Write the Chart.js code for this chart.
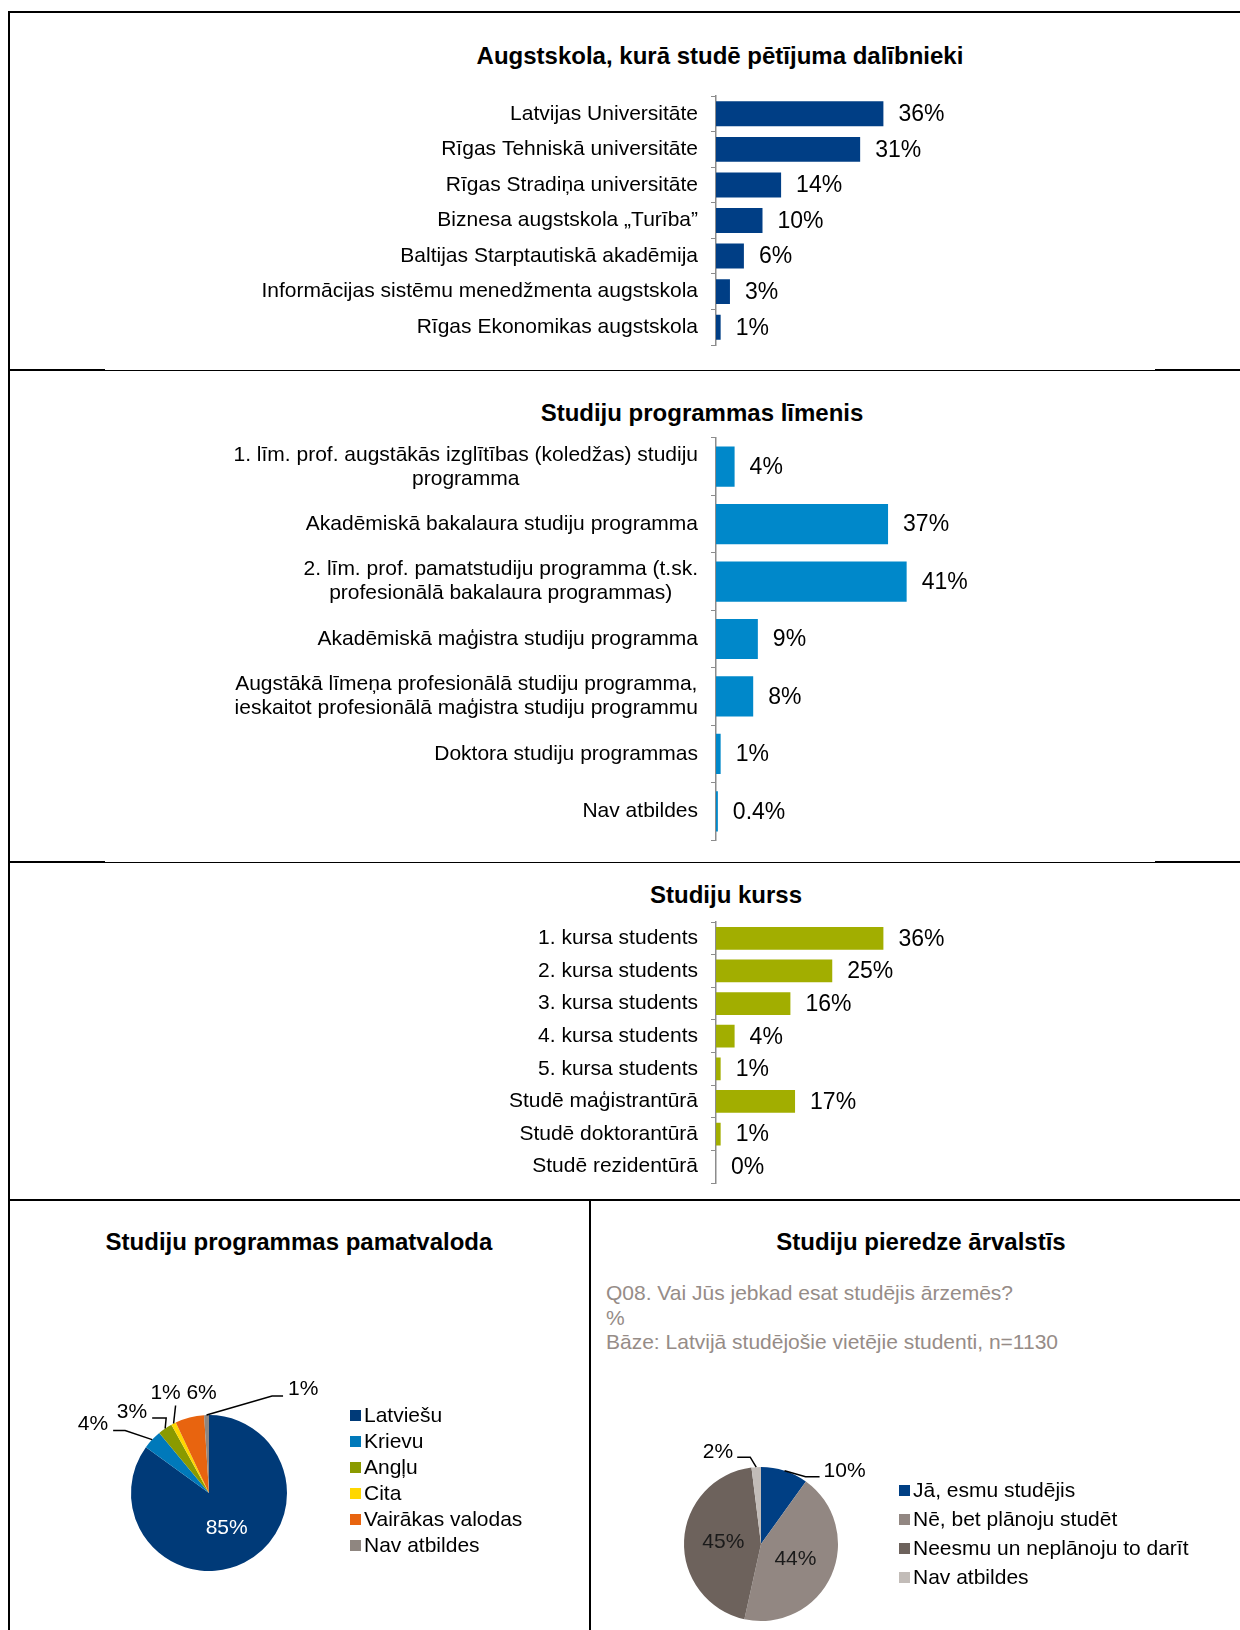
<!DOCTYPE html>
<html lang="lv">
<head>
<meta charset="utf-8">
<title>Pētījuma dalībnieki</title>
<script src="https://cdn.jsdelivr.net/npm/chart.js@4.4.1/dist/chart.umd.min.js"></script>
<style>
  body { margin: 0; background: #fff; width: 1240px; height: 1630px; position: relative; overflow: hidden;
         font-family: "Liberation Sans", Arial, sans-serif; }
  .ln { position: absolute; background: #000; }
  .ttl { position: absolute; width: 800px; text-align: center; font-weight: bold; font-size: 24px;
         line-height: 28px; color: #000; white-space: nowrap; }
  .sub { position: absolute; left: 606px; font-size: 21px; line-height: 24.5px; color: #968c87; white-space: nowrap; }
  canvas { position: absolute; }
</style>
</head>
<body>

<!-- frame -->
<div class="ln" style="left:8px;top:11px;width:1232px;height:2px"></div>
<div class="ln" style="left:8px;top:11px;width:2px;height:1619px"></div>
<div class="ln" style="left:8px;top:370px;width:1232px;height:1px"></div>
<div class="ln" style="left:8px;top:369px;width:97px;height:2px"></div>
<div class="ln" style="left:1155px;top:369px;width:85px;height:2px"></div>
<div class="ln" style="left:8px;top:862px;width:1232px;height:1px"></div>
<div class="ln" style="left:8px;top:861px;width:97px;height:2px"></div>
<div class="ln" style="left:1155px;top:861px;width:85px;height:2px"></div>
<div class="ln" style="left:8px;top:1199px;width:1232px;height:2px"></div>
<div class="ln" style="left:589px;top:1199px;width:2px;height:431px"></div>

<!-- titles -->
<div class="ttl" style="left:320px;top:42px">Augstskola, kurā studē pētījuma dalībnieki</div>
<div class="ttl" style="left:302px;top:399px">Studiju programmas līmenis</div>
<div class="ttl" style="left:326px;top:881px">Studiju kurss</div>
<div class="ttl" style="left:-101px;top:1228px">Studiju programmas pamatvaloda</div>
<div class="ttl" style="left:521px;top:1228px">Studiju pieredze ārvalstīs</div>
<div class="sub" style="top:1281px">Q08. Vai Jūs jebkad esat studējis ārzemēs?<br>%<br>Bāze: Latvijā studējošie vietējie studenti, n=1130</div>

<canvas id="schools" width="1240" height="259" style="left:0;top:91px"></canvas>
<canvas id="levels" width="1240" height="412" style="left:0;top:433px"></canvas>
<canvas id="courses" width="1240" height="271" style="left:0;top:917px"></canvas>
<canvas id="languages" width="579" height="428" style="left:10px;top:1202px"></canvas>
<canvas id="abroad" width="649" height="428" style="left:591px;top:1202px"></canvas>

<script>
// data
var schoolLabels = ['Latvijas Universitāte', 'Rīgas Tehniskā universitāte', 'Rīgas Stradiņa universitāte',
    'Biznesa augstskola „Turība”', 'Baltijas Starptautiskā akadēmija',
    'Informācijas sistēmu menedžmenta augstskola', 'Rīgas Ekonomikas augstskola'];
var schoolValues = [36, 31, 14, 10, 6, 3, 1];

var levelLabels = [
    ['1. līm. prof. augstākās izglītības (koledžas) studiju', 'programma'],
    'Akadēmiskā bakalaura studiju programma',
    ['2. līm. prof. pamatstudiju programma (t.sk.', 'profesionālā bakalaura programmas)'],
    'Akadēmiskā maģistra studiju programma',
    ['Augstākā līmeņa profesionālā studiju programma,', 'ieskaitot profesionālā maģistra studiju programmu'],
    'Doktora studiju programmas',
    'Nav atbildes'];
var levelValues = [4, 37, 41, 9, 8, 1, 0.4];

var courseLabels = ['1. kursa students', '2. kursa students', '3. kursa students', '4. kursa students',
    '5. kursa students', 'Studē maģistrantūrā', 'Studē doktorantūrā', 'Studē rezidentūrā'];
var courseValues = [36, 25, 16, 4, 1, 17, 1, 0];

var languageLabels = ['Latviešu', 'Krievu', 'Angļu', 'Cita', 'Vairākas valodas', 'Nav atbildes'];
var languageValues = [85, 4, 3, 1, 6, 1];

var abroadLabels = ['Jā, esmu studējis', 'Nē, bet plānoju studēt', 'Neesmu un neplānoju to darīt', 'Nav atbildes'];
var abroadValues = [10, 44, 45, 2];

var FONT = '"Liberation Sans", Arial, sans-serif';
var AXIS_X = 716;      // where the category axis sits
var PX_PER_PCT = 4.65;
var X_MAX = 50;

// category labels, each line centred inside its own block, block right aligned
function tickLabels(right) {
    return {
        id: 'tickLabels',
        afterDraw: function (chart) {
            var ctx = chart.ctx, scale = chart.scales.y;
            ctx.save();
            ctx.font = '21px ' + FONT;
            ctx.fillStyle = '#000';
            ctx.textAlign = 'center';
            ctx.textBaseline = 'middle';
            chart.data.labels.forEach(function (label, i) {
                var lines = Array.isArray(label) ? label : [label];
                var w = Math.max.apply(null, lines.map(function (l) { return ctx.measureText(l).width; }));
                var y = scale.getPixelForTick(i);
                lines.forEach(function (l, j) {
                    ctx.fillText(l, right - w / 2, y + (j - (lines.length - 1) / 2) * 24);
                });
            });
            ctx.restore();
        }
    };
}

var valueLabels = {
    id: 'valueLabels',
    afterDatasetsDraw: function (chart) {
        var ctx = chart.ctx;
        var meta = chart.getDatasetMeta(0);
        var data = chart.data.datasets[0].data;
        ctx.save();
        ctx.font = '23px ' + FONT;
        ctx.fillStyle = '#000';
        ctx.textBaseline = 'middle';
        meta.data.forEach(function (bar, i) {
            ctx.fillText(data[i] + '%', bar.x + 15, bar.y + 1);
        });
        ctx.restore();
    }
};

function barChart(id, labels, values, color) {
    new Chart(document.getElementById(id), {
        type: 'bar',
        data: {
            labels: labels,
            datasets: [{ data: values, backgroundColor: color, barPercentage: 0.7, categoryPercentage: 1.0 }]
        },
        options: {
            indexAxis: 'y',
            responsive: false,
            animation: false,
            events: [],
            layout: { padding: { top: 5, bottom: 5, right: 1240 - AXIS_X - X_MAX * PX_PER_PCT } },
            plugins: { legend: { display: false }, tooltip: { enabled: false } },
            scales: {
                x: { display: false, min: 0, max: X_MAX },
                y: {
                    afterFit: function (s) { s.width = AXIS_X; },
                    ticks: { display: false },
                    grid: { offset: true, drawOnChartArea: false, drawTicks: true, tickLength: 5, color: '#8c8c8c' },
                    border: { color: '#8c8c8c', width: 1.5 }
                }
            }
        },
        plugins: [tickLabels(698), valueLabels]
    });
}

barChart('schools', schoolLabels, schoolValues, '#003e85');
barChart('levels', levelLabels, levelValues, '#0088ca');
barChart('courses', courseLabels, courseValues, '#a2ae00');

// percentage labels round a pie; elbow/run/text are offsets from the arc edge
function callouts(specs) {
    return {
        id: 'callouts',
        afterDatasetsDraw: function (chart) {
            var ctx = chart.ctx;
            var data = chart.data.datasets[0].data;
            ctx.save();
            ctx.font = '21px ' + FONT;
            ctx.textBaseline = 'middle';
            ctx.strokeStyle = '#000';
            ctx.lineWidth = 1.5;
            chart.getDatasetMeta(0).data.forEach(function (arc, i) {
                var s = specs[i];
                var mid = (arc.startAngle + arc.endAngle) / 2;
                var text = data[i] + '%';
                if (s.inside) {
                    var d = arc.outerRadius * s.inside;
                    ctx.fillStyle = s.color;
                    ctx.textAlign = 'center';
                    ctx.fillText(text, arc.x + Math.cos(mid) * d, arc.y + Math.sin(mid) * d);
                    return;
                }
                var px = arc.x + Math.cos(mid) * arc.outerRadius;
                var py = arc.y + Math.sin(mid) * arc.outerRadius;
                if (s.elbow) {
                    ctx.beginPath();
                    ctx.moveTo(px, py);
                    px += s.elbow[0];
                    py += s.elbow[1];
                    ctx.lineTo(px, py);
                    px += s.run;
                    ctx.lineTo(px, py);
                    ctx.stroke();
                }
                ctx.fillStyle = '#000';
                ctx.textAlign = s.align;
                ctx.fillText(text, px + s.text[0], py + s.text[1]);
            });
            ctx.restore();
        }
    };
}

function sideLegend(x, y, gap) {
    return {
        id: 'sideLegend',
        afterDraw: function (chart) {
            var ctx = chart.ctx;
            var colors = chart.data.datasets[0].backgroundColor;
            ctx.save();
            ctx.font = '21px ' + FONT;
            ctx.textBaseline = 'middle';
            ctx.textAlign = 'left';
            chart.data.labels.forEach(function (label, i) {
                var cy = y + i * gap;
                ctx.fillStyle = colors[i];
                ctx.fillRect(x, cy - 5, 11, 11);
                ctx.fillStyle = '#000';
                ctx.fillText(label, x + 14, cy + 1);
            });
            ctx.restore();
        }
    };
}

function pieChart(id, labels, values, colors, padding, plugins) {
    new Chart(document.getElementById(id), {
        type: 'pie',
        data: {
            labels: labels,
            datasets: [{ data: values, backgroundColor: colors, borderWidth: 0, hoverOffset: 0 }]
        },
        options: {
            responsive: false,
            animation: false,
            events: [],
            layout: { padding: padding },
            plugins: { legend: { display: false }, tooltip: { enabled: false } }
        },
        plugins: plugins
    });
}

pieChart('languages', languageLabels, languageValues,
    ['#003a78', '#0079ba', '#8a9a00', '#ffd700', '#e8640f', '#8f8680'],
    { left: 121, right: 302, top: 213, bottom: 59 },
    [callouts([
        { inside: 0.5, color: '#fff' },
        { elbow: [-27, -9], run: -12, text: [-5, -6], align: 'right' },
        { elbow: [1, -10.5], run: -14, text: [-5, -6], align: 'right' },
        { elbow: [2, -18], run: 0, text: [-10, -12], align: 'center' },
        { text: [12, -24], align: 'center' },
        { elbow: [65.5, -19], run: 11, text: [5, -7], align: 'left' }
    ]), sideLegend(340, 213, 26)]);

pieChart('abroad', abroadLabels, abroadValues,
    ['#003f84', '#928782', '#6d625c', '#c2bcb8'],
    { left: 93, right: 402, top: 265, bottom: 9 },
    [callouts([
        { elbow: [21, 6], run: 14, text: [4, -5], align: 'left' },
        { inside: 0.49, color: '#1a1a1a' },
        { inside: 0.49, color: '#1a1a1a' },
        { elbow: [-6, -10], run: -13, text: [-4, -5], align: 'right' }
    ]), sideLegend(308, 288, 29)]);
</script>
</body>
</html>
